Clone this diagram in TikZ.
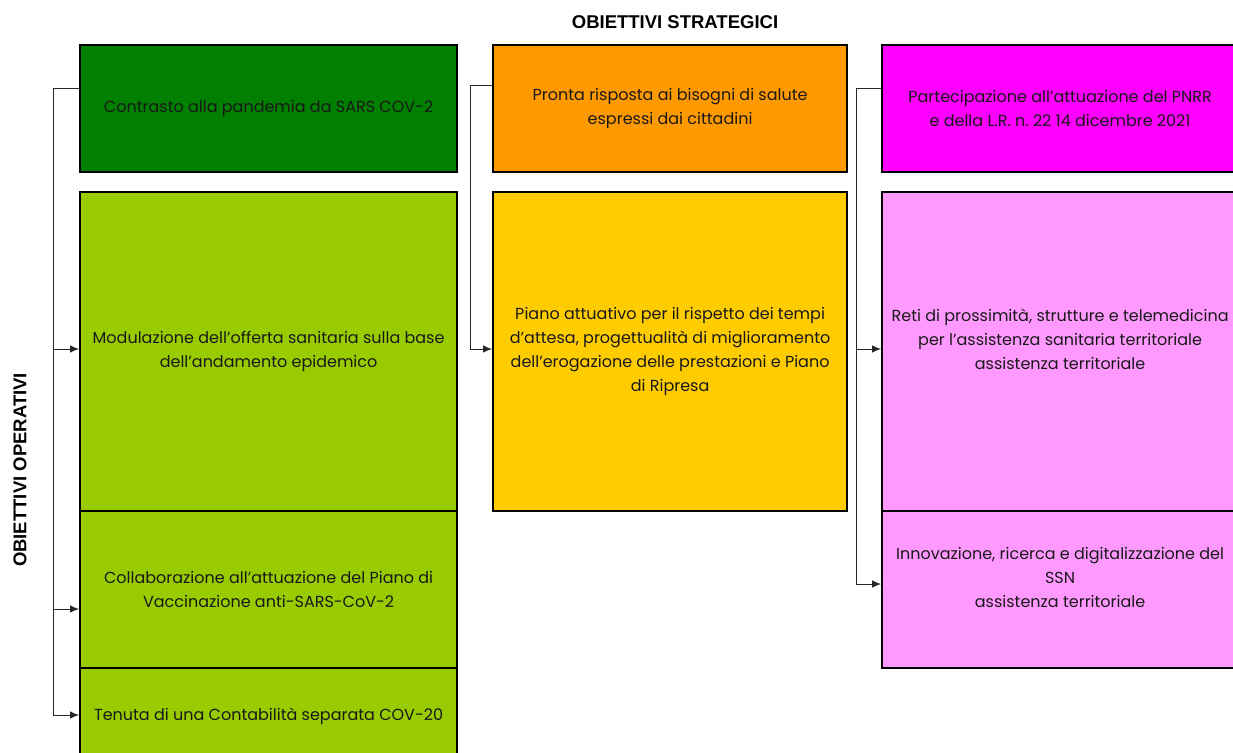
\documentclass[tikz,border=0pt]{standalone}
\usepackage{fontspec}
\setmainfont{Poppins}
\newfontfamily\titlefont{Liberation Sans}
\usetikzlibrary{arrows.meta}
\frenchspacing
\definecolor{dgreen}{HTML}{007F00}
\definecolor{lgreen}{HTML}{99CC00}
\definecolor{orangeb}{HTML}{FF9900}
\definecolor{yellowb}{HTML}{FFCC00}
\definecolor{magb}{HTML}{FF00FF}
\definecolor{pinkb}{HTML}{FF99FF}
\tikzset{
  box/.style={draw=black, line width=2.2pt, anchor=north west, inner sep=2pt, align=center,
    font=\fontsize{16}{24}\selectfont, text=black!90},
  conn/.style={line width=0.9pt, draw=black!85},
  arr/.style={conn, -{Latex[length=9pt,width=7.5pt]}},
  ttl/.style={font=\titlefont\bfseries\fontsize{18.5}{22}\selectfont}
}
\begin{document}
\begin{tikzpicture}[x=1pt,y=-1pt]
\clip (0,0) rectangle (1233,752);
\fill[white] (0,0) rectangle (1233,752);
% column 1
\node[box, fill=dgreen, minimum width=377pt, minimum height=127pt] (b1) at (79,44) {Contrasto alla pandemia da SARS COV-2};
\node[box, fill=lgreen, minimum width=377pt, minimum height=319pt] (b2) at (79,191) {Modulazione dell’offerta sanitaria sulla base\\dell’andamento epidemico};
\node[box, fill=lgreen, minimum width=377pt, minimum height=157pt] (b3) at (79,510) {Collaborazione all’attuazione del Piano di\\Vaccinazione anti-SARS-CoV-2};
\node[box, fill=lgreen, minimum width=377pt, minimum height=96pt] (b4) at (79,667) {Tenuta di una Contabilità separata COV-20};
% column 2
\node[box, fill=orangeb, minimum width=354pt, minimum height=127pt] (c1) at (492,44) {Pronta risposta ai bisogni di salute\\espressi dai cittadini};
\node[box, fill=yellowb, minimum width=354pt, minimum height=319pt] (c2) at (492,191) {Piano attuativo per il rispetto dei tempi\\d’attesa, progettualità di miglioramento\\dell’erogazione delle prestazioni  e Piano\\di Ripresa};
% column 3
\node[box, fill=magb, minimum width=356pt, minimum height=127pt] (d1) at (881,44) {Partecipazione all’attuazione del PNRR\\e della L.R. n. 22 14 dicembre 2021};
\node[box, fill=pinkb, minimum width=356pt, minimum height=319pt] (d2) at (881,191) {Reti di prossimità, strutture e telemedicina\\per l’assistenza sanitaria territoriale\\assistenza territoriale\\\mbox{}};
\node[box, fill=pinkb, minimum width=356pt, minimum height=157pt] (d3) at (881,510) {Innovazione, ricerca e digitalizzazione del\\SSN\\assistenza territoriale\\\mbox{}};
% titles
\node[ttl] (t1) at (675,22) {OBIETTIVI STRATEGICI};
\node[ttl, rotate=90] (t2) at (20,470) {OBIETTIVI OPERATIVI};
% left connectors
\coordinate (L0) at (53,88);
\coordinate (L2) at (53,349);
\coordinate (L3) at (53,609);
\coordinate (L4) at (53,715);
\draw[conn] (L0 -| b1.west) -- (L0) -- (L4);
\draw[arr] (L2) -- (L2 -| b2.west);
\draw[arr] (L3) -- (L3 -| b3.west);
\draw[arr] (L4) -- (L4 -| b4.west);
% middle connectors
\coordinate (M0) at (470,85);
\coordinate (M2) at (470,349);
\draw[conn] (M0 -| c1.west) -- (M0) -- (M2);
\draw[arr] (M2) -- (M2 -| c2.west);
% right connectors
\coordinate (R0) at (856,88);
\coordinate (R2) at (856,349);
\coordinate (R3) at (856,584);
\draw[conn] (R0 -| d1.west) -- (R0) -- (R3);
\draw[arr] (R2) -- (R2 -| d2.west);
\draw[arr] (R3) -- (R3 -| d3.west);
\end{tikzpicture}
\end{document}
